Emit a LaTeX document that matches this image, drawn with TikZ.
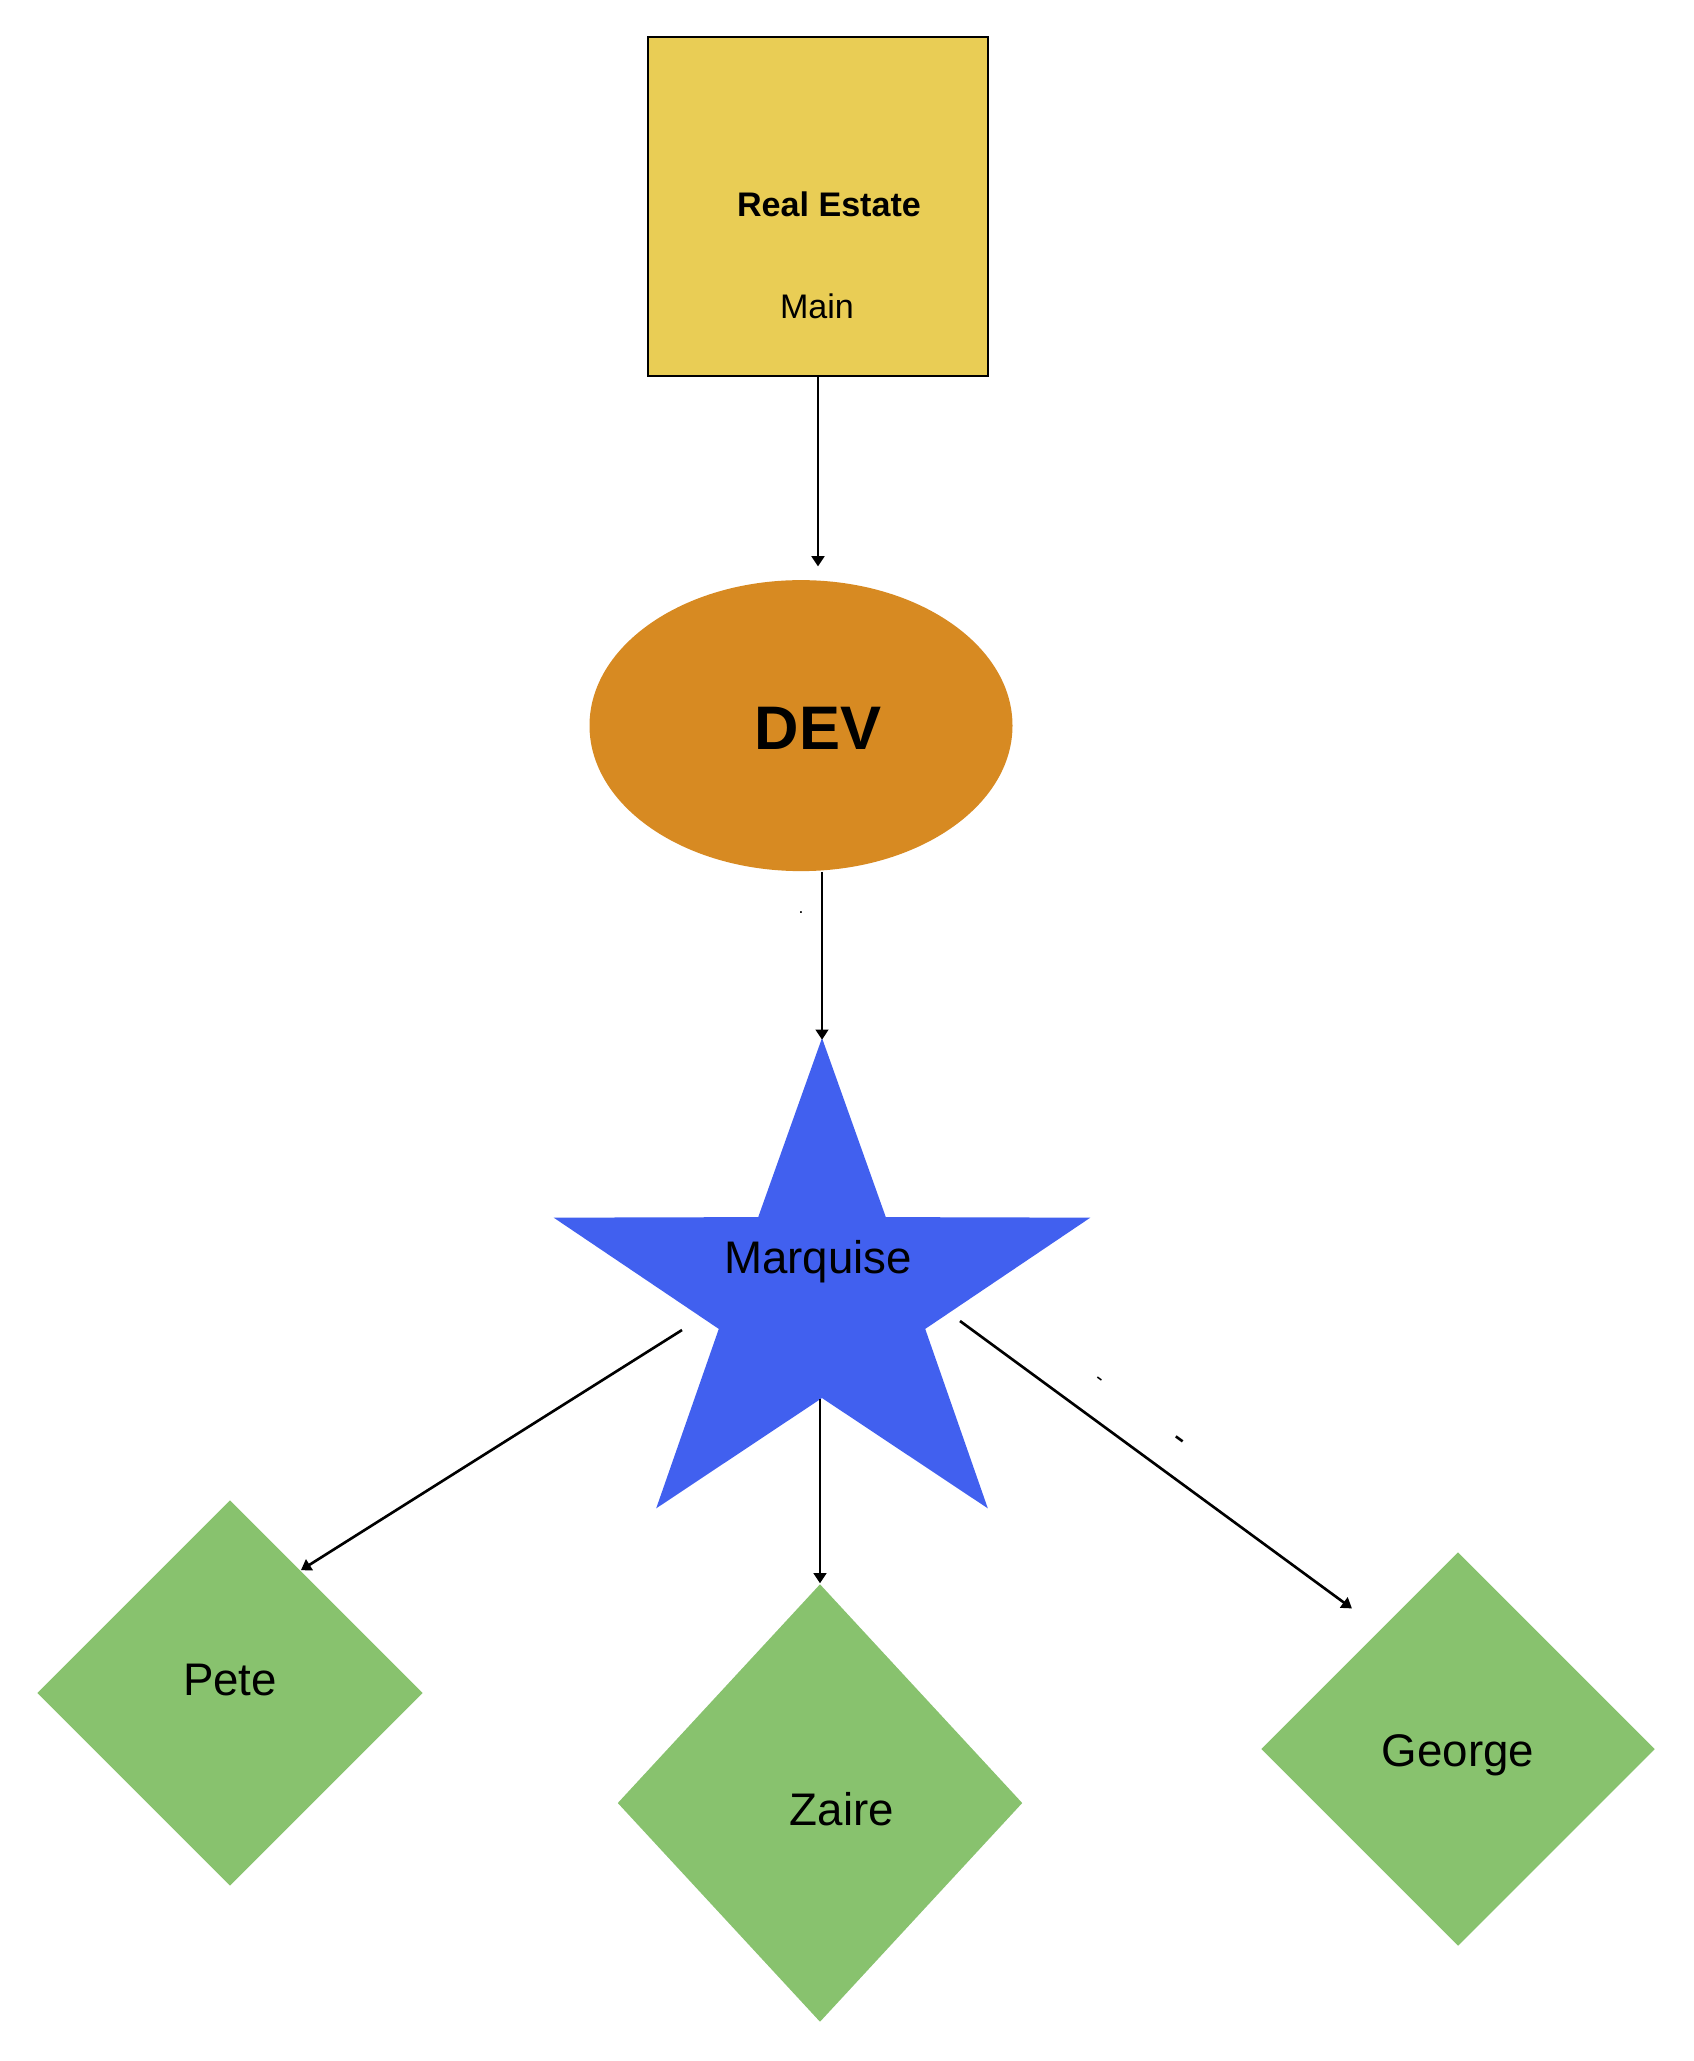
\documentclass[tikz,border=0pt]{standalone}
\usepackage{fontspec}
\setmainfont{Liberation Sans}
\usetikzlibrary{arrows.meta}
\usetikzlibrary{positioning}
\usetikzlibrary{shapes.geometric}
\definecolor{estateyellow}{RGB}{233,205,85}
\definecolor{devorange}{RGB}{215,138,34}
\definecolor{leadblue}{RGB}{65,96,239}
\definecolor{agentgreen}{RGB}{136,194,110}
\tikzset{
  > = {Triangle[length = 2.9pt, width = 3.6pt]},
  link/.style = {->,
                 line width = 0.75pt},
  project/.style = {rectangle,
                    draw,
                    line width = 0.8pt,
                    fill = estateyellow,
                    minimum width = 3.4cm,
                    minimum height = 3.39cm,
                    inner sep = 0},
  team/.style = {ellipse,
                 fill = devorange,
                 minimum width = 4.23cm,
                 minimum height = 2.91cm,
                 inner sep = 0},
  lead/.style = {star,
                 star points = 5,
                 star point ratio = 2.6,
                 fill = leadblue,
                 minimum size = 5.2cm,
                 inner sep = 0,
                 xscale = 1.085,
                 transform shape},
  agent/.style = {diamond,
                  fill = agentgreen,
                  inner sep = 0},
  caption/.style = {anchor = base,
                    inner sep = 0,
                    font = \fontsize{13}{15}\selectfont},
  small/.style = {anchor = base,
                  inner sep = 0,
                  font = \fontsize{9.7}{11}\selectfont},
  stray/.style = {inner sep = 0,
                  rotate = -36}
}

\begin{document}
\begin{tikzpicture}

\useasboundingbox (0,0) rectangle (16.93,-20.61);

\node[project](estate) at (8.18,-2.065){};
\node[small, font = \bfseries\fontsize{9.7}{11}\selectfont](estate-title) at (8.29,-2.16){Real Estate};
\node[small](estate-sub) at (8.17,-3.18){Main};

\node[team](dev)[below = 2.02cm of estate, xshift = -0.17cm]{};
\node[caption, font = \bfseries\fontsize{17.5}{20}\selectfont](dev-title) at (8.18,-7.49){DEV};

\draw[link, shorten > = 0.13cm] (estate) -- (estate.south |- dev.north);

\node[lead](marquise) at (8.22,-12.98){};
\node[caption](marquise-title) at (8.18,-12.73){Marquise};

\draw[link, shorten > = -0.04cm] (dev.south -| marquise.north) -- (marquise.north);
\node[anchor = base, inner sep = 0, font = \fontsize{5}{6}\selectfont](dev-dot) at (8.01,-9.13){.};

\node[agent, minimum width = 3.86cm, minimum height = 3.86cm](pete) at (2.30,-16.93){};
\node[caption](pete-title) at (2.30,-16.95){Pete};

\node[agent, minimum width = 4.05cm, minimum height = 4.38cm](zaire) at (8.20,-18.03){};
\node[caption](zaire-title) at (8.42,-18.25){Zaire};

\node[agent, minimum width = 3.94cm, minimum height = 3.94cm](george) at (14.58,-17.49){};
\node[caption](george-title) at (14.58,-17.66){George};

\coordinate (marquise-left) at (6.82,-13.30);
\coordinate (marquise-right) at (9.60,-13.21);

\draw[link] (marquise-left) -- (pete.60);
\draw[link] (zaire.north |- marquise.inner point 3) -- (zaire.north);
\draw[link, shorten > = 0.35cm] (marquise-right) -- (george.123);

\node[stray, font = \fontsize{6}{7}\selectfont](george-dash-a) at (10.98,-13.81){-};
\node[stray, font = \fontsize{10}{11}\selectfont](george-dash-b) at (11.77,-14.43){-};

\end{tikzpicture}
\end{document}
